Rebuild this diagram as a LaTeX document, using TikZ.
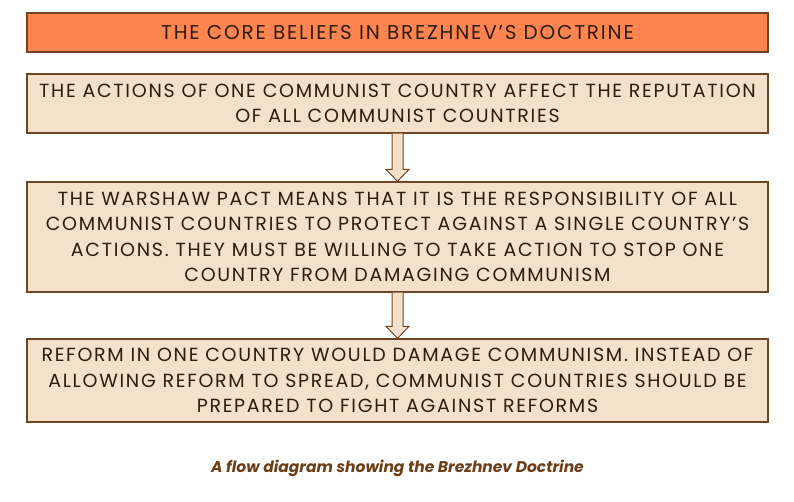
\documentclass[tikz,border=0pt]{standalone}
\usepackage{fontspec}
\setmainfont{Poppins}
\usetikzlibrary{calc}
\definecolor{boxfill}{HTML}{F5E0CC}
\definecolor{titlefill}{HTML}{FF8550}
\definecolor{edge}{HTML}{6E4626}
\definecolor{ink}{HTML}{2E1C0C}
\definecolor{capink}{HTML}{6B3E18}
\tikzset{
  box/.style={draw=edge, line width=1.3pt, fill=boxfill, minimum width=741pt, inner sep=0pt,
    align=center, text=ink, font=\fontsize{19}{25.5}\selectfont\addfontfeatures{LetterSpace=9}},
  titlebox/.style={box, fill=titlefill, minimum height=39pt, font=\fontsize{20}{25}\selectfont\addfontfeatures{LetterSpace=9}},
  blockarrow/.style={draw=edge, line width=1pt, fill=boxfill, line join=miter}
}
\begin{document}
\begin{tikzpicture}[x=1pt,y=-1pt]
\useasboundingbox (0,0) rectangle (794,501);
\node[titlebox] (t) at (397.5,32.5) {THE CORE BELIEFS IN BREZHNEV’S DOCTRINE};
\node[box, minimum height=59pt] (b1) at (397.5,103.5) {THE ACTIONS OF ONE COMMUNIST COUNTRY AFFECT THE REPUTATION\\OF ALL COMMUNIST COUNTRIES};
\node[box, minimum height=110pt] (b2) at (397.5,237) {THE WARSHAW PACT MEANS THAT IT IS THE RESPONSIBILITY OF ALL\\COMMUNIST COUNTRIES TO PROTECT AGAINST A SINGLE COUNTRY’S\\ACTIONS. THEY MUST BE WILLING TO TAKE ACTION TO STOP ONE\\COUNTRY FROM DAMAGING COMMUNISM};
\node[box, minimum height=83pt] (b3) at (397.5,380.5) {REFORM IN ONE COUNTRY WOULD DAMAGE COMMUNISM. INSTEAD OF\\ALLOWING REFORM TO SPREAD, COMMUNIST COUNTRIES SHOULD BE\\PREPARED TO FIGHT AGAINST REFORMS};
\foreach \a/\b in {b1/b2, b2/b3}{
  \draw[blockarrow] ($(\a.south)+(-5.5,0)$) -- ($(\b.north)+(-5.5,-12)$) -- ($(\b.north)+(-11.5,-12)$)
    -- (\b.north) -- ($(\b.north)+(11.5,-12)$) -- ($(\b.north)+(5.5,-12)$) -- ($(\a.south)+(5.5,0)$);
}
\node[font=\fontsize{15.5}{18}\selectfont\bfseries\itshape, text=capink] (cap) at (397.5,468) {A flow diagram showing the Brezhnev Doctrine};
\end{tikzpicture}
\end{document}
